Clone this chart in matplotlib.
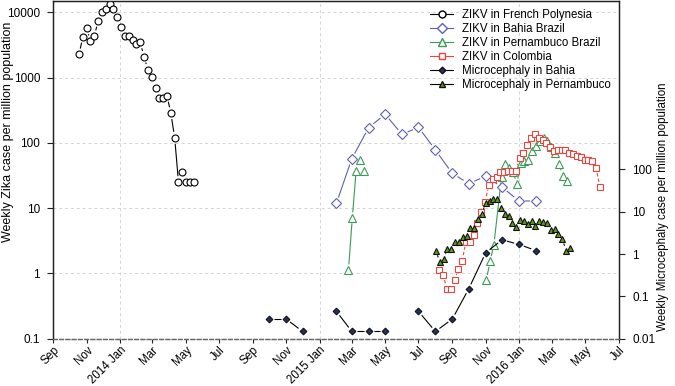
import numpy as np
import matplotlib
matplotlib.use("Agg")
import matplotlib.pyplot as plt
import matplotlib.dates as mdates
from matplotlib.lines import Line2D
from matplotlib.ticker import FixedLocator, FuncFormatter, NullLocator

plt.rcParams['font.family'] = ['Liberation Sans', 'DejaVu Sans']

# weekly / monthly series
fp_start = '2013-10-18'   # ZIKV French Polynesia, weekly
fp_vals = [2270, 4240, 5690, 3630, 4330, 7450, 10350, 11400, 13270, 11400, 8380,
           5950, 4390, 4330, 3810, 3310, 3470, 2090, 1320, 1020, 700, 480, 480,
           527, 286, 120, 25, 36, 25, 25, 25]

ba_start = '2015-02'      # ZIKV Bahia, monthly
ba_vals = [11.9, 57, 172, 275, 135, 174, 78, 34, 23.8, 30.8, 20.9, 12.9, 12.8]

pe1_start = '2015-02-23'  # ZIKV Pernambuco, weekly (first wave)
pe1_vals = [1.13, 7.1, 37.7, 55, 37.7]
pe2_start = '2015-11-02'  # ZIKV Pernambuco, weekly (second wave), nan = no report
pe2_vals = [0.78, 1.52, 2.74, np.nan, 30, 47.8, 40.5, 36.4, 23.4, 49.2, 53.7, 54.7,
            75, 89.6, 106, 117, 106, 86, 68.8, 47.8, 31.6, 26.5]

co_start = '2015-08-08'   # ZIKV Colombia, weekly
co_vals = [1.14, 0.95, 0.58, 0.58, 0.78, 1.17, 1.57, 3.07, 3.07, 3.9, 5.9, 8.6,
           12.6, 23, 27.5, 29.5, 36.4, 36, 37.7, 37.7, 37.7, 57.7, 68.8, 94.5, 121,
           137, 121, 109, 98, 86, 76, 78, 79, 78, 71, 68, 64, 60, 55, 55, 53.7,
           41.5, 20.9]

mb_start = '2014-10'      # Microcephaly Bahia, monthly (0 = none)
mb_vals = [0.029, 0.029, 0.0147, 0, 0.044, 0.0147, 0.0147, 0.0147, 0, 0.044,
           0.0147, 0.029, 0.15, 1.07, 2.17, 1.68, 1.21]

mp_start = '2015-08-02'   # Microcephaly Pernambuco, weekly
mp_vals = [1.21, 0.64, 0.77, 1.33, 1.33, 1.90, 1.90, 2.50, 2.74, 4.17, 4.17, 6.56,
           8.75, 16.3, 17.8, 19.5, 20.3, 12.1, 8.9, 7.85, 5.47, 4.31, 6.45, 5.97,
           5.19, 5.97, 4.55, 5.88, 5.66, 5.47, 3.80, 3.95, 3.01, 2.29, 1.21, 1.40]

labels = ['ZIKV in French Polynesia', 'ZIKV in Bahia Brazil', 'ZIKV in Pernambuco Brazil',
          'ZIKV in Colombia', 'Microcephaly in Bahia', 'Microcephaly in Pernambuco']
left_ticks = [0.1, 1, 10, 100, 1000, 10000]
right_ticks = [0.01, 0.1, 1, 10, 100]
grid_years = [2014, 2015, 2016]


def weekly(start, n):
    return mdates.date2num(np.datetime64(start) + np.arange(n) * np.timedelta64(7, 'D'))


def monthly(start, n):
    d = (np.datetime64(start, 'M') + np.arange(n)).astype('datetime64[D]')
    return mdates.date2num(d)


fig = plt.figure(figsize=(6.75, 3.86), dpi=100)
ax = fig.add_axes([0.079, 0.123, 0.8373, 0.8744])
ax2 = ax.twinx()

ax.set_xlim(mdates.date2num(np.datetime64('2013-09-01')),
            mdates.date2num(np.datetime64('2016-07-01')))
ax.set_yscale('log')
ax.set_ylim(0.1, 15000)
ax2.set_yscale('log')
ax2.set_ylim(0.01, 9.7e5)


def series(axis, x, vals, color, marker, ms, mfc, mec, gap, ls='-', dropna=False):
    y = np.array(vals, dtype=float)
    y[y <= 0] = np.nan
    if dropna:
        keep = np.isfinite(y)
        x, y = x[keep], y[keep]
    # R type="b": line segments that stop short of each point
    pts = axis.transData.transform(np.column_stack([x, y]))
    inv = axis.transData.inverted()
    for i in range(len(pts) - 1):
        p, q = pts[i], pts[i + 1]
        if not (np.all(np.isfinite(p)) and np.all(np.isfinite(q))):
            continue
        d = q - p
        L = np.hypot(d[0], d[1])
        if L <= 2 * gap + 0.5:
            continue
        u = d / L
        a = inv.transform(p + u * gap)
        b = inv.transform(q - u * gap)
        axis.plot([a[0], b[0]], [a[1], b[1]], color=color, lw=0.8, ls=ls,
                  solid_capstyle='butt', zorder=2)
    axis.plot(x, y, ls='none', marker=marker, ms=ms, mfc=mfc, mec=mec, mew=0.8,
              zorder=3)


BLUE = '#5f5fba'
GREEN = '#3b9a58'
RED = '#e8463f'
NAVY = '#27305e'
OLIVE = '#5e9a17'

series(ax, weekly(fp_start, len(fp_vals)), fp_vals, 'black', 'o', 5, 'white', 'black', 6)
series(ax, monthly(ba_start, len(ba_vals)), ba_vals, BLUE, 'D', 4.6, 'white', BLUE, 6)
series(ax, weekly(pe1_start, len(pe1_vals)), pe1_vals, GREEN, '^', 5.5, 'white', GREEN, 5.5)
series(ax, weekly(pe2_start, len(pe2_vals)), pe2_vals, GREEN, '^', 5.5, 'white', GREEN, 5.5,
       dropna=True)
series(ax, weekly(co_start, len(co_vals)), co_vals, RED, 's', 4.5, 'white', RED, 5.5,
       ls=(0, (3, 2)))
series(ax2, monthly(mb_start, len(mb_vals)), mb_vals, 'black', 'D', 3.4, NAVY, '#111111', 5)
series(ax2, weekly(mp_start, len(mp_vals)), mp_vals, 'black', '^', 5, OLIVE, '#111111', 5)

# grid
for v in left_ticks[1:]:
    ax.axhline(v, color='#d4d4d4', lw=0.7, ls=(0, (3, 3)), zorder=0)
for yr in grid_years:
    ax.axvline(mdates.date2num(np.datetime64(f'{yr}-01-01')), color='#d4d4d4', lw=0.7,
               ls=(0, (3, 3)), zorder=0)

# axes styling
for a in (ax, ax2):
    for s in ('left', 'right', 'top'):
        a.spines[s].set_color('#222222')
        a.spines[s].set_linewidth(0.9)
    a.spines['bottom'].set_color('#666666')
    a.spines['bottom'].set_linestyle((0, (3, 2)))
    a.spines['bottom'].set_linewidth(0.9)

ax.xaxis.set_major_locator(mdates.MonthLocator(bymonth=(1, 3, 5, 7, 9, 11)))


def month_label(x, pos):
    d = mdates.num2date(x)
    if d.month == 1:
        return f'{d.year} Jan'
    return d.strftime('%b')


ax.xaxis.set_major_formatter(FuncFormatter(month_label))
ax.tick_params(axis='x', length=3, width=0.8, color='#222222', labelsize=8.3, pad=1)
for t in ax.get_xticklabels():
    t.set_rotation(45)
    t.set_ha('right')
    t.set_rotation_mode('anchor')

ax.yaxis.set_major_locator(FixedLocator(left_ticks))
ax.yaxis.set_minor_locator(NullLocator())
ax.set_yticklabels([f'{v:g}' for v in left_ticks])
ax.tick_params(axis='y', length=4.5, width=0.8, color='#222222', labelsize=8.5, pad=5)

ax2.yaxis.set_major_locator(FixedLocator(right_ticks))
ax2.yaxis.set_minor_locator(NullLocator())
ax2.set_yticklabels([f'{v:g}' for v in right_ticks])
ax2.tick_params(axis='y', length=4.5, width=0.8, color='#222222', labelsize=8.5, pad=5.5)

fig.text(8 / 675, 1 - 132 / 386, 'Weekly Zika case per million population',
         rotation=90, ha='center', va='center', fontsize=9)
fig.text(663 / 675, 1 - 207 / 386, 'Weekly Microcephaly case per million population',
         rotation=90, ha='center', va='center', fontsize=8.3)

handles = [
    Line2D([], [], color='black', marker='o', ms=5, mfc='white', mec='black', lw=0.8),
    Line2D([], [], color=BLUE, marker='D', ms=4.6, mfc='white', mec=BLUE, lw=0.8),
    Line2D([], [], color=GREEN, marker='^', ms=5.5, mfc='white', mec=GREEN, lw=0.8),
    Line2D([], [], color=RED, marker='s', ms=4.5, mfc='white', mec=RED, lw=0.8),
    Line2D([], [], color='black', marker='D', ms=3.4, mfc=NAVY, mec='#111111', lw=0.8),
    Line2D([], [], color='black', marker='^', ms=5, mfc=OLIVE, mec='#111111', lw=0.8),
]
leg = ax2.legend(handles, labels, loc='upper left', bbox_to_anchor=(430 / 675, 1 - 9 / 386),
                 bbox_transform=fig.transFigure, frameon=False, fontsize=8.3,
                 handlelength=2.0, handletextpad=0.8, labelspacing=0.17,
                 borderaxespad=0, borderpad=0)

fig.savefig('out.png', dpi=100)
